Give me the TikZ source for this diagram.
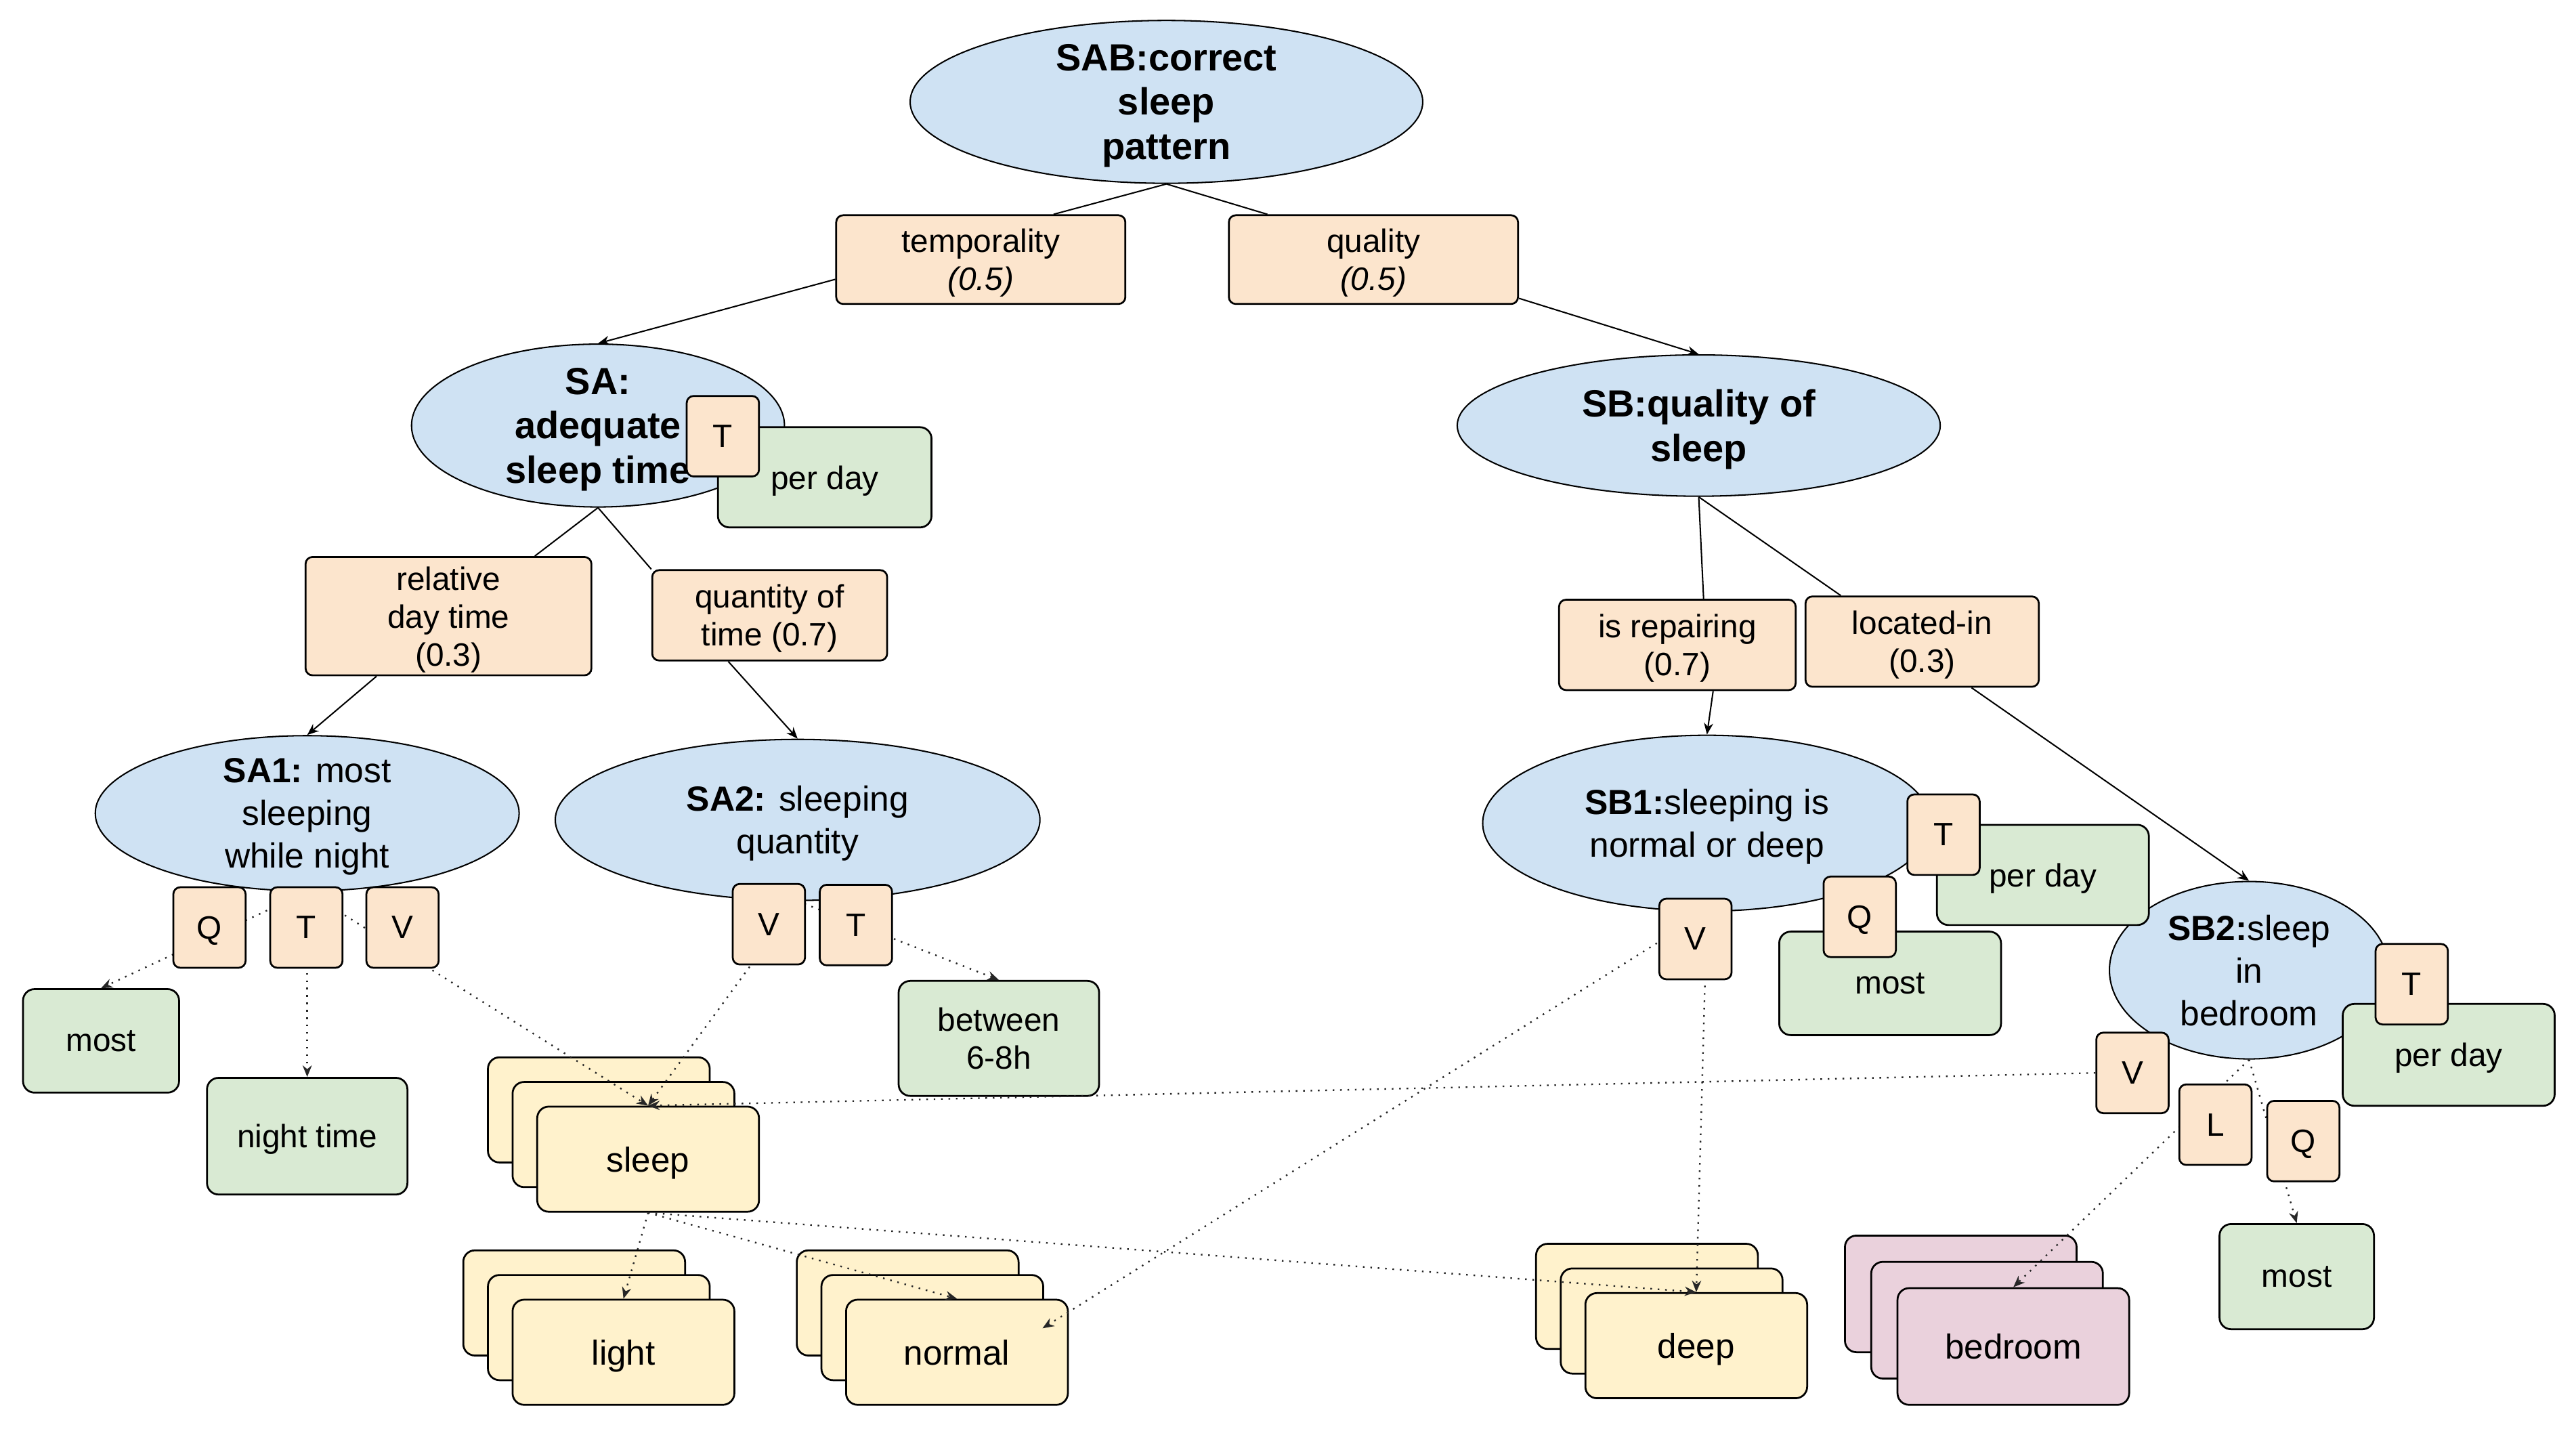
\documentclass[tikz,border=0pt]{standalone}
\usepackage{fontspec}
\setmainfont{Liberation Sans}
\usetikzlibrary{shapes,arrows.meta,positioning,calc}

\definecolor{bluefill}{HTML}{CFE2F3}
\definecolor{orangefill}{HTML}{FCE5CD}
\definecolor{greenfill}{HTML}{D9EAD3}
\definecolor{yellowfill}{HTML}{FFF2CC}
\definecolor{pinkfill}{HTML}{EAD1DC}

\begin{document}
\begin{tikzpicture}[
  goalnode/.style={ellipse,draw,line width=0.6pt,fill=bluefill,inner sep=0pt,text depth=0pt,align=center,font=\fontsize{16.4}{19.2}\selectfont\bfseries},
  subgoalnode/.style={ellipse,draw,line width=0.6pt,fill=bluefill,inner sep=0pt,text depth=0pt,align=center,font=\fontsize{15.1}{18.5}\selectfont},
  weightbox/.style={draw,line width=0.8pt,fill=orangefill,rounded corners=3pt,align=center,inner sep=0pt,text depth=0pt,font=\fontsize{14}{16.4}\selectfont},
  tagbox/.style={draw,line width=0.8pt,fill=orangefill,rounded corners=3pt,minimum width=1.1cm,minimum height=1.225cm,inner sep=0pt,text depth=0pt,font=\fontsize{14}{16.4}\selectfont},
  valuebox/.style={draw,line width=0.8pt,fill=greenfill,rounded corners=5pt,align=center,inner sep=0pt,text depth=0pt,font=\fontsize{14}{16.4}\selectfont},
  conceptbox/.style={draw,line width=0.8pt,fill=yellowfill,rounded corners=5pt,minimum width=3.375cm,minimum height=1.6cm,inner sep=0pt,text depth=0pt,font=\fontsize{15}{18}\selectfont},
  roombox/.style={conceptbox,fill=pinkfill,minimum width=3.525cm,minimum height=1.775cm},
  plainedge/.style={line width=0.6pt},
  arrowedge/.style={line width=0.6pt,-{Stealth[length=5pt,width=4pt]}},
  slotedge/.style={line width=0.7pt,dash pattern=on 0.7pt off 2.5pt,black!85,-{Stealth[length=5pt,width=4pt]}},
]
\useasboundingbox (0,0) rectangle (39.2,-21.743);

% goals
\node[goalnode,minimum width=7.8cm,minimum height=2.4cm] (root) at (17.75,-1.55) {SAB:correct\\sleep\\pattern};
\node[goalnode,minimum width=5.675cm,minimum height=2.4cm] (sa) at (9.1,-6.475) {SA:\\adequate\\sleep time};
\node[goalnode,minimum width=7.35cm,minimum height=2.15cm] (sb) at (25.85,-6.475) {SB:quality of\\sleep};
\node[subgoalnode,minimum width=6.45cm,minimum height=2.35cm] (sa1) at (4.675,-12.375) {\textbf{SA1:} most\\sleeping\\while night};
\node[subgoalnode,minimum width=7.375cm,minimum height=2.45cm] (sa2) at (12.1375,-12.475) {\textbf{SA2:} sleeping\\quantity};
\node[subgoalnode,minimum width=6.825cm,minimum height=2.675cm] (sb1) at (25.975,-12.525) {\textbf{SB1:}sleeping is\\normal or deep};
\node[subgoalnode,minimum width=4.25cm,minimum height=2.7cm] (sb2) at (34.225,-14.7625) {\textbf{SB2:}sleep\\in\\bedroom};

% weights
\node[weightbox,minimum width=4.4cm,minimum height=1.35cm] (temporality) at (14.925,-3.95) {temporality\\\textit{(0.5)}};
\node[weightbox,minimum width=4.4cm,minimum height=1.35cm] (quality) at (20.9,-3.95) {quality\\\textit{(0.5)}};
\node[weightbox,minimum width=4.35cm,minimum height=1.8cm] (relative) at (6.825,-9.375) {relative\\day time\\(0.3)};
\node[weightbox,minimum width=3.575cm,minimum height=1.375cm] (quantity) at (11.7125,-9.3625) {quantity of\\time (0.7)};
\node[weightbox,minimum width=3.6cm,minimum height=1.375cm] (repairing) at (25.525,-9.8125) {is repairing\\(0.7)};
\node[weightbox,minimum width=3.55cm,minimum height=1.375cm] (located) at (29.25,-9.7625) {located-in\\(0.3)};

% values
\node[valuebox,minimum width=3.25cm,minimum height=1.525cm] (perdaya) at (12.55,-7.2625) {per day};
\node[valuebox,minimum width=2.375cm,minimum height=1.575cm] (mosta) at (1.5375,-15.8375) {most};
\node[valuebox,minimum width=3.05cm,minimum height=1.775cm] (night) at (4.675,-17.2875) {night time};
\node[valuebox,minimum width=3.05cm,minimum height=1.75cm] (between) at (15.2,-15.8) {between\\6-8h};
\node[valuebox,minimum width=3.225cm,minimum height=1.525cm] (perdayb) at (31.0875,-13.3125) {per day};
\node[valuebox,minimum width=3.375cm,minimum height=1.575cm] (mostb) at (28.7625,-14.9625) {most};
\node[valuebox,minimum width=3.225cm,minimum height=1.55cm] (perdayc) at (37.2625,-16.05) {per day};
\node[valuebox,minimum width=2.35cm,minimum height=1.6cm] (mostc) at (34.95,-19.425) {most};

% concepts
\node[conceptbox] (sleep3) at (9.1125,-16.8875) {};
\node[conceptbox] (sleep2) at ($(sleep3)+(0.375,-0.375)$) {};
\node[conceptbox] (sleep) at ($(sleep2)+(0.375,-0.375)$) {sleep};
\node[conceptbox] (light3) at (8.7375,-19.825) {};
\node[conceptbox] (light2) at ($(light3)+(0.375,-0.375)$) {};
\node[conceptbox] (light) at ($(light2)+(0.375,-0.375)$) {light};
\node[conceptbox] (normal3) at (13.8125,-19.825) {};
\node[conceptbox] (normal2) at ($(normal3)+(0.375,-0.375)$) {};
\node[conceptbox] (normal) at ($(normal2)+(0.375,-0.375)$) {normal};
\node[conceptbox] (deep3) at (25.0625,-19.725) {};
\node[conceptbox] (deep2) at ($(deep3)+(0.375,-0.375)$) {};
\node[conceptbox] (deep) at ($(deep2)+(0.375,-0.375)$) {deep};
\node[roombox] (bedroom3) at (29.8375,-19.6875) {};
\node[roombox] (bedroom2) at ($(bedroom3)+(0.4,-0.4)$) {};
\node[roombox] (bedroom) at ($(bedroom2)+(0.4,-0.4)$) {bedroom};

% tree
\draw[plainedge] (root.south) -- ($(temporality.north)!0.5!(temporality.north east)$);
\draw[plainedge] (root.south) -- ($(quality.north west)+(0.6,0)$);
\draw[arrowedge] ($(temporality.west)+(0,-0.3)$) -- (sa.north);
\draw[arrowedge] ($(quality.south east)+(0,0.1)$) -- (sb.north);
\draw[plainedge] (sa.south) -- ($(relative.north)!0.6!(relative.north east)$);
\draw[plainedge] (sa.south) -- (quantity.north west);
\draw[arrowedge] ($(relative.south)!0.5!(relative.south west)$) -- (sa1.north);
\draw[arrowedge] ($(quantity.south)!0.35!(quantity.south west)$) -- (sa2.north);
\draw[plainedge] (sb.south) -- ($(repairing.north)!0.22!(repairing.north east)$);
\draw[plainedge] (sb.south) -- ($(located.north west)+(0.55,0)$);
\draw[arrowedge] ($(repairing.south)!0.3!(repairing.south east)$) -- (sb1.north);
\draw[arrowedge] ($(located.south)!0.42!(located.south east)$) -- (sb2.north);

% slots
\draw[slotedge] (sa1.south) -- (mosta.north);
\draw[slotedge] (sa1.south) -- (night.north);
\draw[slotedge] (sa1.south) -- (sleep.north);
\draw[slotedge] (sa2.south) -- (sleep.north);
\draw[slotedge] (sa2.south) -- (between.north);
\draw[slotedge] (sleep.south) -- (light.north);
\draw[slotedge] (sleep.south) -- (normal.north);
\draw[slotedge] (sleep.south) -- (deep.north);
\draw[slotedge] (sb1.south) -- ($(normal.north east)+(-0.4,-0.45)$);
\draw[slotedge] (sb1.south) -- (deep.north);
\draw[slotedge] (sb2.south) -- (bedroom.north);
\draw[slotedge] (sb2.south) -- (mostc.north);

% tags
\node[tagbox] (sat) at (11,-6.6375) {T};
\node[tagbox] (sa1q) at (3.1875,-14.1125) {Q};
\node[tagbox] (sa1t) at (4.6625,-14.1125) {T};
\node[tagbox] (sa1v) at (6.125,-14.1125) {V};
\node[tagbox] (sa2v) at (11.7,-14.0625) {V};
\node[tagbox] (sa2t) at (13.025,-14.075) {T};
\node[tagbox] (sb1t) at (29.575,-12.7) {T};
\node[tagbox] (sb1q) at (28.3,-13.95) {Q};
\node[tagbox] (sb1v) at (25.8,-14.2875) {V};
\node[tagbox] (sb2t) at (36.7,-14.975) {T};
\node[tagbox] (sb2v) at (32.45,-16.325) {V};
\node[tagbox] (sb2l) at (33.7125,-17.1125) {L};
\node[tagbox] (sb2q) at (35.05,-17.3625) {Q};

\draw[slotedge] (sb2v.west) -- (sleep.north);

\end{tikzpicture}
\end{document}
